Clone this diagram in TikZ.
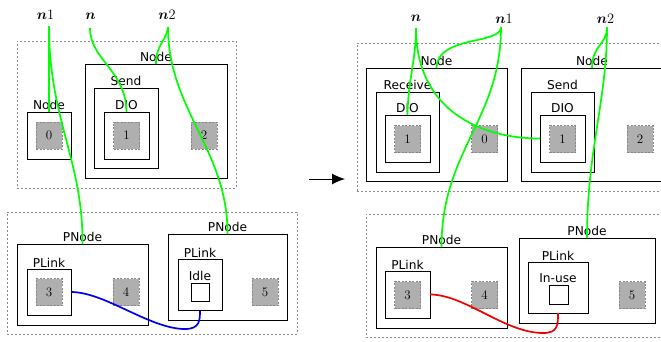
\documentclass[tikz,border=0pt]{standalone}
\usepackage{fontspec}
\setsansfont{DejaVu Sans}
\usepackage{bm}
\usetikzlibrary{arrows.meta}
\definecolor{lgreen}{RGB}{0,255,0}
\definecolor{lblue}{RGB}{0,0,235}
\definecolor{lred}{RGB}{240,0,0}
\definecolor{greyfill}{RGB}{175,175,175}
\definecolor{greyedge}{RGB}{135,135,135}
\definecolor{dashcol}{RGB}{140,140,140}
\begin{document}
\begin{tikzpicture}[x=1pt,y=-1pt,
  box/.style={draw=black, line width=0.8pt, anchor=north west, inner sep=0pt, outer sep=0pt},
  dbox/.style={draw=dashcol, dash pattern=on 2pt off 2pt, line width=0.6pt, anchor=north west, inner sep=0pt, outer sep=0pt},
  greysq/.style={fill=greyfill, draw=greyedge, dash pattern=on 2pt off 1.5pt, line width=0.7pt,
    minimum width=26pt, minimum height=27pt, inner sep=0pt, outer sep=0pt,
    font=\rmfamily\fontsize{13}{15}\selectfont},
  whsq/.style={draw=black, fill=white, line width=0.8pt, inner sep=0pt, outer sep=0pt},
  lbl/.style={font=\sffamily\fontsize{12.2}{14}\selectfont, inner sep=1.8pt},
  txt/.style={font=\sffamily\fontsize{12.2}{14}\selectfont, inner sep=0pt},
  nlab/.style={font=\fontsize{14}{16}\selectfont, inner sep=0pt, anchor=base},
  gline/.style={draw=lgreen, line width=1.7pt},
  bline/.style={draw=lblue, line width=1.7pt},
  rline/.style={draw=lred, line width=1.7pt}
]
\useasboundingbox (0,0) rectangle (661,341);
\clip (0,0) rectangle (661,341);

% ---------- left half, top ----------
\node[dbox, minimum width=219pt, minimum height=147pt] (dA) at (17,41) {};
\node[box, minimum width=44pt, minimum height=47pt, label={[lbl]above:Node}] (nodeA0) at (27,112) {};
\node[box, minimum width=142pt, minimum height=114pt, label={[lbl]above:Node}] (nodeA) at (85,64) {};
\node[box, minimum width=64pt, minimum height=80pt, label={[lbl]above:Send}] (sendA) at (94,88) {};
\node[box, minimum width=45pt, minimum height=47pt, label={[lbl]above:DIO}] (dioA) at (104,112) {};
\node[greysq] (gA0) at (49,135.5) {0};
\node[greysq] (gA1) at (126.5,135.5) {1};
\node[greysq] (gA2) at (204,135.5) {2};

% ---------- left half, bottom ----------
\node[dbox, minimum width=290pt, minimum height=122pt] (dB) at (7,212) {};
\node[box, minimum width=131pt, minimum height=81pt, label={[lbl]above:PNode}] (pnA1) at (17,244) {};
\node[box, minimum width=44pt, minimum height=46pt, label={[lbl]above:PLink}] (plA1) at (27,269) {};
\node[box, minimum width=119pt, minimum height=86pt, label={[lbl]above:PNode}] (pnA2) at (168,234) {};
\node[box, minimum width=44pt, minimum height=51pt, label={[lbl]above:PLink}] (plA2) at (178,259) {};
\node[txt] (idle) at (200,275.5) {Idle};
\node[whsq, minimum size=18pt] (sqA) at (200,292) {};
\node[greysq] (gA3) at (49,292) {3};
\node[greysq] (gA4) at (126,292) {4};
\node[greysq] (gA5) at (265,292) {5};

% ---------- right half, top ----------
\node[dbox, minimum width=311pt, minimum height=148pt] (dC) at (357,43) {};
\node[box, minimum width=141pt, minimum height=113pt, label={[lbl]above:Node}] (nodeB0) at (366,68) {};
\node[box, minimum width=63pt, minimum height=80pt, label={[lbl]above:Receive}] (recB) at (376,92) {};
\node[box, minimum width=45pt, minimum height=47pt, label={[lbl]above:DIO}] (dioB0) at (385,115) {};
\node[box, minimum width=142pt, minimum height=113pt, label={[lbl]above:Node}] (nodeB) at (521,68) {};
\node[box, minimum width=63pt, minimum height=80pt, label={[lbl]above:Send}] (sendB) at (531,92) {};
\node[box, minimum width=45pt, minimum height=47pt, label={[lbl]above:DIO}] (dioB) at (540,115) {};
\node[greysq] (gB1L) at (407.5,139) {1};
\node[greysq] (gB0) at (484.5,139) {0};
\node[greysq] (gB1R) at (562.5,139) {1};
\node[greysq] (gB2) at (640,139) {2};

% ---------- right half, bottom ----------
\node[dbox, minimum width=305pt, minimum height=123pt] (dD) at (366,214) {};
\node[box, minimum width=131pt, minimum height=81pt, label={[lbl]above:PNode}] (pnB1) at (376,247) {};
\node[box, minimum width=45pt, minimum height=47pt, label={[lbl]above:PLink}] (plB1) at (385,271) {};
\node[box, minimum width=136pt, minimum height=85pt, label={[lbl]above:PNode}] (pnB2) at (519,238) {};
\node[box, minimum width=60pt, minimum height=51pt, label={[lbl]above:PLink}] (plB2) at (528,262) {};
\node[txt] (inuse) at (558,278.5) {In-use};
\node[whsq, minimum size=19pt] (sqB) at (558.5,295) {};
\node[greysq] (gB3) at (407.5,295) {3};
\node[greysq] (gB4) at (484.5,295) {4};
\node[greysq] (gB5) at (632,295) {5};

% ---------- variable labels ----------
\node[nlab] (n1A) at (45.5,19.5) {$\bm{n}1$};
\node[nlab] (nA) at (90.5,19) {$\bm{n}$};
\node[nlab] (n2A) at (167,19.5) {$\bm{n}2$};
\node[nlab] (nB) at (416,21) {$\bm{n}$};
\node[nlab] (n1B) at (504,23) {$\bm{n}1$};
\node[nlab] (n2B) at (605.5,23) {$\bm{n}2$};

\coordinate (n1Ap) at (49,26);
\coordinate (nAp) at (90,28);
\coordinate (n2Ap) at (168,27);
\coordinate (nBp) at (416,28);
\coordinate (n1Bp) at (501,27);
\coordinate (n2Bp) at (607,27);

% ---------- green connectors ----------
\draw[gline] (n1Ap) -- (nodeA0.north);
\draw[gline] (n1Ap) .. controls (49,120) and (83,160) .. (pnA1.north);
\draw[gline] (nAp) .. controls (90,60) and (126,70) .. (dioA.north);
\draw[gline] (n2Ap) .. controls (166,42) and (156,44) .. (nodeA.north);
\draw[gline] (n2Ap) .. controls (168,110) and (228,150) .. (pnA2.north);

\draw[gline] (nBp) .. controls (416,60) and (408,80) .. (dioB0.north);
\draw[gline] (nBp) .. controls (416,110) and (480,138.5) .. (dioB.west);
\draw[gline] (n1Bp) .. controls (501,45) and (437,35) .. (nodeB0.north);
\draw[gline] (n1Bp) .. controls (501,120) and (441.5,150) .. (pnB1.north);
\draw[gline] (n2Bp) .. controls (607,45) and (592,45) .. (nodeB.north);
\draw[gline] (n2Bp) .. controls (607,100) and (587,150) .. (pnB2.north);

% ---------- link curves ----------
\draw[bline] (plA1.east) .. controls (105,292) and (150,329) .. (185,329) .. controls (200,329) and (200,320) .. (plA2.south);
\draw[rline] (plB1.east) .. controls (465,294.5) and (505,333) .. (543,333) .. controls (558,333) and (558,325) .. (plB2.south);

% ---------- transition arrow ----------
\coordinate (arrS) at (309,179);
\coordinate (arrE) at (345,179);
\draw[line width=1pt, -{Latex[length=13pt,width=11pt]}] (arrS) -- (arrE);
\end{tikzpicture}
\end{document}
